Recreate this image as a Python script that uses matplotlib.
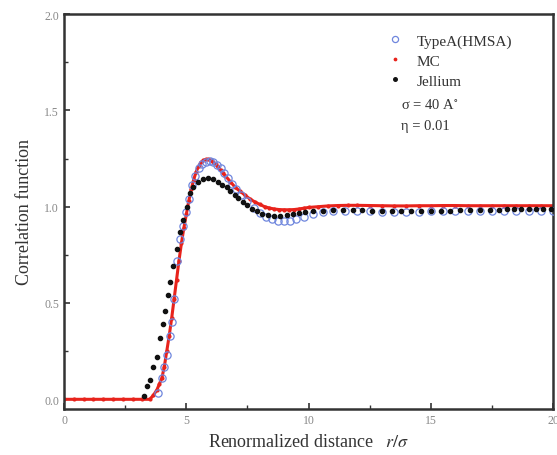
import numpy as np
import matplotlib.pyplot as plt
from matplotlib.ticker import MultipleLocator

plt.rcParams['font.family'] = ['Liberation Serif', 'DejaVu Serif']
plt.rcParams['mathtext.fontset'] = 'stix'

# MC (red, dense)
r_mc = [0.0, 0.4, 0.8, 1.2, 1.6, 2.0, 2.4, 2.8, 3.2, 3.5, 3.65, 3.8, 3.9, 4.0,
        4.1, 4.2, 4.3, 4.4, 4.5, 4.6, 4.7, 4.8, 4.9, 5.0, 5.1, 5.2, 5.3, 5.4,
        5.5, 5.6, 5.7, 5.8, 5.9, 6.0, 6.1, 6.2, 6.3, 6.4, 6.5, 6.6, 6.8, 7.0,
        7.2, 7.4, 7.6, 7.8, 8.0, 8.2, 8.4, 8.6, 8.8, 9.0, 9.2, 9.4, 9.6, 9.8,
        10.0, 10.4, 10.8, 11.2, 11.6, 12.0, 12.5, 13.0, 13.5, 14.0, 14.5,
        15.0, 15.5, 16.0, 16.5, 17.0, 17.5, 18.0, 18.5, 19.0, 19.5, 20.0]
g_mc = [0.0, 0.0, 0.0, 0.0, 0.0, 0.0, 0.0, 0.0, 0.0, 0.0, 0.02, 0.05, 0.08, 0.11,
        0.17, 0.25, 0.33, 0.42, 0.52, 0.62, 0.72, 0.81, 0.89, 0.96, 1.03, 1.09,
        1.14, 1.18, 1.21, 1.23, 1.24, 1.245, 1.245, 1.24, 1.23, 1.22, 1.205,
        1.19, 1.175, 1.16, 1.13, 1.10, 1.08, 1.06, 1.04, 1.025, 1.012, 1.0,
        0.993, 0.988, 0.985, 0.984, 0.984, 0.985, 0.988, 0.992, 0.996, 1.0,
        1.004, 1.006, 1.007, 1.007, 1.006, 1.005, 1.004, 1.004, 1.005, 1.005,
        1.006, 1.006, 1.005, 1.005, 1.005, 1.005, 1.005, 1.005, 1.005, 1.005]

# TypeA (HMSA), open blue circles
r_hmsa = [3.85, 4.0, 4.1, 4.2, 4.33, 4.4, 4.5, 4.6, 4.74, 4.87, 5.0, 5.12, 5.25,
          5.37, 5.5, 5.65, 5.8, 5.95, 6.1, 6.25, 6.4, 6.55, 6.7, 6.87, 7.05,
          7.25, 7.5, 7.75, 8.0, 8.25, 8.5, 8.75, 9.0, 9.25, 9.5, 9.8, 10.2,
          10.6, 11.0, 11.5, 12.0, 12.5, 13.0, 13.5, 14.0, 14.5, 15.0, 15.5,
          16.0, 16.5, 17.0, 17.5, 18.0, 18.5, 19.0, 19.5, 20.0]
g_hmsa = [0.035, 0.11, 0.17, 0.23, 0.33, 0.40, 0.52, 0.72, 0.83, 0.90, 0.97,
          1.04, 1.11, 1.16, 1.20, 1.22, 1.23, 1.235, 1.23, 1.215, 1.20, 1.175,
          1.15, 1.12, 1.09, 1.06, 1.03, 0.995, 0.965, 0.945, 0.935, 0.928,
          0.925, 0.927, 0.935, 0.948, 0.962, 0.972, 0.978, 0.98, 0.978, 0.975,
          0.972, 0.97, 0.97, 0.972, 0.975, 0.978, 0.98, 0.98, 0.98, 0.98,
          0.98, 0.98, 0.98, 0.98, 0.98]

# Jellium, black dots
r_jel = [3.25, 3.4, 3.5, 3.65, 3.8, 3.93, 4.05, 4.13, 4.25, 4.33, 4.46, 4.6,
         4.74, 4.87, 5.03, 5.15, 5.28, 5.48, 5.7, 5.9, 6.1, 6.3, 6.45, 6.65,
         6.8, 7.0, 7.1, 7.3, 7.5, 7.7, 7.9, 8.1, 8.35, 8.6, 8.85, 9.1, 9.35,
         9.6, 9.85, 10.2, 10.6, 11.0, 11.4, 11.8, 12.2, 12.6, 13.0, 13.4,
         13.8, 14.2, 14.6, 15.0, 15.4, 15.8, 16.2, 16.6, 17.0, 17.4, 17.8,
         18.1, 18.4, 18.7, 19.0, 19.3, 19.6, 19.9]
g_jel = [0.015, 0.07, 0.10, 0.17, 0.22, 0.32, 0.39, 0.46, 0.54, 0.61, 0.69,
         0.78, 0.87, 0.93, 1.0, 1.07, 1.10, 1.13, 1.145, 1.15, 1.145, 1.13,
         1.115, 1.10, 1.08, 1.06, 1.045, 1.025, 1.01, 0.99, 0.975, 0.962,
         0.955, 0.952, 0.952, 0.955, 0.96, 0.965, 0.97, 0.975, 0.98, 0.985,
         0.985, 0.985, 0.983, 0.98, 0.978, 0.977, 0.976, 0.975, 0.976, 0.977,
         0.978, 0.98, 0.982, 0.983, 0.984, 0.985, 0.985, 0.986, 0.986, 0.986,
         0.986, 0.986, 0.986, 0.986]

fig = plt.figure(figsize=(5.57, 4.56), dpi=100)
ax = fig.add_axes([0.115, 0.101, 0.878, 0.866])

ax.plot(r_mc, g_mc, '-', color='#e8231c', lw=2.2, zorder=2)
ax.plot(r_mc, g_mc, '.', color='#e8231c', ms=4, zorder=2, label='MC')
ax.plot(r_hmsa, g_hmsa, 'o', mfc='none', mec='#6f86dd', mew=0.9, ms=5.2,
        zorder=3, label='TypeA(HMSA)')
ax.plot(r_jel, g_jel, 'o', color='#111111', ms=3.0, zorder=4, label='Jellium')

ax.set_xlim(0, 20)
ax.set_ylim(-0.05, 2.0)
ax.xaxis.set_major_locator(MultipleLocator(5))
ax.xaxis.set_minor_locator(MultipleLocator(2.5))
ax.yaxis.set_major_locator(MultipleLocator(0.5))
ax.yaxis.set_minor_locator(MultipleLocator(0.25))
ax.set_yticks([0.0, 0.5, 1.0, 1.5, 2.0])
ax.set_yticklabels(['0.0', '0.5', '1.0', '1.5', '2.0'])
ax.tick_params(which='both', direction='in', color='#333333', labelsize=8.5,
               labelcolor='#888888')
ax.tick_params(which='major', length=4, width=1.2)
ax.tick_params(which='minor', length=3, width=1.0)
for s in ax.spines.values():
    s.set_linewidth(1.8)
    s.set_color('#333333')

ax.set_ylabel('Correlation function', fontsize=13, color='#333333', labelpad=8)
ax.set_xlabel('Renormalized distance   $r/\\sigma$', fontsize=13,
              color='#333333', labelpad=5)

h, l = ax.get_legend_handles_labels()
order = [1, 0, 2]
leg = ax.legend([h[i] for i in order], [l[i] for i in order], frameon=False,
                loc='upper left', bbox_to_anchor=(0.633, 0.985), fontsize=11,
                handlelength=1.0, handletextpad=0.9, labelspacing=0.42,
                labelcolor='#333333', markerscale=0.85)
ax.text(0.69, 0.762, 'σ = 40 A$^{\\circ}$', transform=ax.transAxes,
        fontsize=10.5, color='#333333')
ax.text(0.69, 0.71, 'η = 0.01', transform=ax.transAxes, fontsize=10.5,
        color='#333333')

fig.savefig('out.png', dpi=100)
